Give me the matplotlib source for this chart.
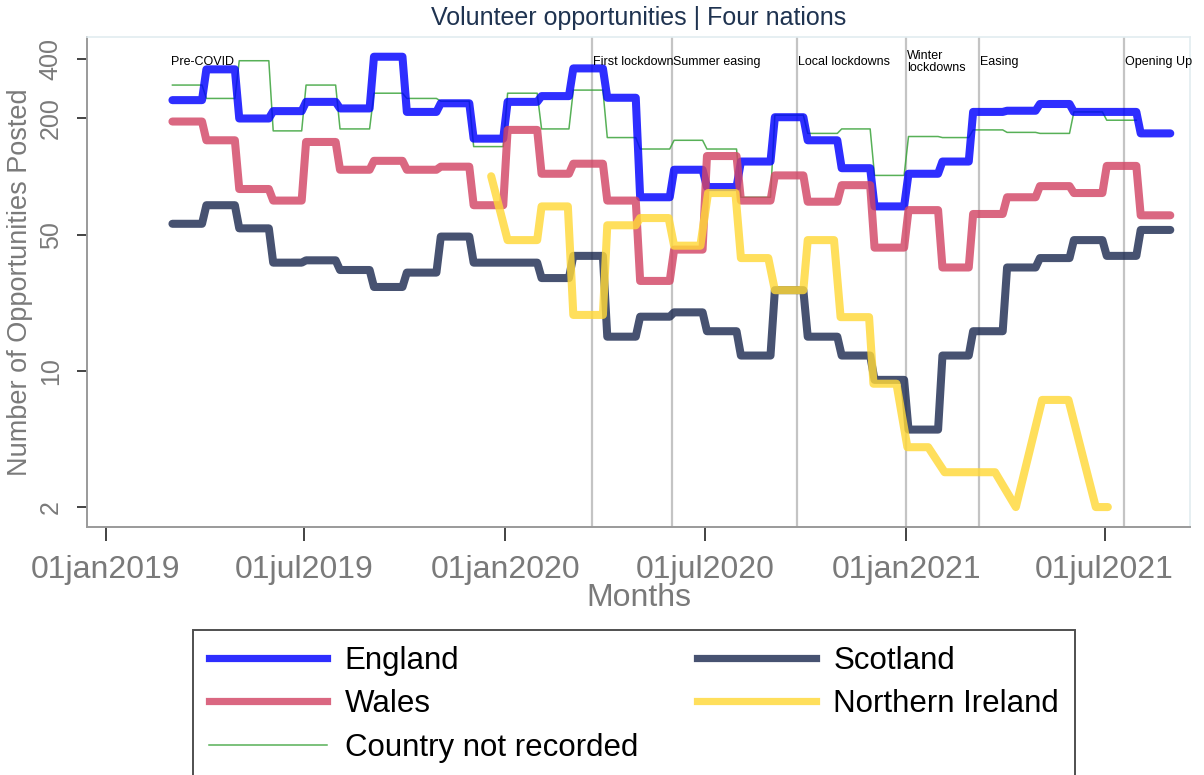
import numpy as np
import matplotlib

matplotlib.use("Agg")
import matplotlib.pyplot as plt
import matplotlib.transforms as mtransforms
from matplotlib.lines import Line2D

plt.rcParams["font.family"] = ["Liberation Sans", "DejaVu Sans"]

# monthly counts of opportunities posted, Mar 2019 onwards
FIRST_MONTH = "2019-03"
england = [246, 354, 198, 216, 241, 223, 411, 214, 237, 156,
           241, 258, 358, 253, 78, 108, 88, 119, 201, 153, 110, 70,
           103, 119, 214, 217, 235, 214, 214, 166]
wales = [191, 153, 86, 75, 150, 108, 120, 108, 112, 71,
         173, 103, 116, 75, 29, 42, 127, 75, 101, 74, 90, 43,
         67, 34, 64, 78, 89, 82, 113, 63]
scotland = [57, 71, 54, 36, 37, 33, 27, 32, 49, 36,
            36, 30, 39, 15, 19, 20, 16, 12, 26, 15, 12, 9,
            5, 12, 16, 34, 38, 47, 39, 53]
not_recorded = [294, 251, 392, 171, 294, 175, 267, 251, 243, 142,
                267, 175, 277, 158, 138, 153, 138, 78, 206, 166, 175, 101,
                160, 158, 173, 168, 166, 214, 194]

# Northern Ireland has gaps, so its observations are kept as dated points
ni_dates = ["2019-12-19", "2020-01-03", "2020-01-30", "2020-02-03", "2020-02-27",
            "2020-03-03", "2020-03-30", "2020-04-03", "2020-04-29", "2020-05-03",
            "2020-05-29", "2020-06-03", "2020-06-27", "2020-07-04", "2020-07-29",
            "2020-08-03", "2020-08-28", "2020-09-03", "2020-09-29", "2020-10-03",
            "2020-10-27", "2020-11-02", "2020-11-28", "2020-12-02", "2020-12-23",
            "2021-01-02", "2021-01-21", "2021-02-05", "2021-03-23", "2021-04-11",
            "2021-05-05", "2021-05-29", "2021-06-23", "2021-07-04"]
ni_values = [100, 47, 47, 70, 70,
             19.4, 19.4, 56, 56, 61,
             61, 44, 44, 82, 82,
             38, 38, 26, 26, 47,
             47, 18.9, 18.9, 8.6, 8.6,
             4.06, 4.06, 3.02, 3.02, 2,
             7.1, 7.1, 2, 2]

event_dates = ["2019-03-01", "2020-03-20", "2020-06-01", "2020-09-23",
               "2021-01-01", "2021-03-08", "2021-07-19"]
event_labels = ["Pre-COVID", "First lockdown", "Summer easing", "Local lockdowns",
                "Winter\nlockdowns", "Easing", "Opening Up"]
event_lines = [False, True, True, True, True, True, True]

y_ticks = [2, 10, 50, 200, 400]
x_ticks = ["2019-01-01", "2019-07-01", "2020-01-01", "2020-07-01",
           "2021-01-01", "2021-07-01"]

COLORS = {
    "England": "#0000ff",
    "Wales": "#d24565",
    "Scotland": "#1e2c52",
    "Northern Ireland": "#ffd838",
    "Country not recorded": "#3aa33a",
}


def monthly_steps(values, first_month=FIRST_MONTH):
    """Flat segment per month, short ramp across each month boundary."""
    start = np.datetime64(first_month, "M") + np.arange(len(values))
    lo = start.astype("datetime64[D]") + 2
    hi = (start + 1).astype("datetime64[D]") - 2
    x = np.column_stack([lo, hi]).ravel()
    y = np.repeat(np.asarray(values, dtype=float), 2)
    return x, y


fig = plt.figure(figsize=(12.04, 7.75), dpi=100)
ax = fig.add_axes([87 / 1204, 1 - 527 / 775, (1190 - 87) / 1204, (527 - 37) / 775])

ax.set_yscale("log")
ax.set_ylim(1.58, 519)
ax.set_xlim(np.datetime64("2018-12-15"), np.datetime64("2021-09-17"))

trans = mtransforms.blended_transform_factory(ax.transData, ax.transAxes)
for d, label, has_line in zip(event_dates, event_labels, event_lines):
    d = np.datetime64(d)
    if has_line:
        ax.axvline(d, color="#c4c4c4", lw=1.6, zorder=1)
    ax.text(d + np.timedelta64(1, "D"), 0.949, label, transform=trans,
            fontsize=9, color="black", ha="left", va="center",
            linespacing=0.95, zorder=6)

line_kw = dict(lw=5.8, alpha=0.82, solid_capstyle="round", solid_joinstyle="round")

x, y = monthly_steps(not_recorded)
ax.plot(x, y, color=COLORS["Country not recorded"], lw=1.1, alpha=0.85, zorder=2)
x, y = monthly_steps(england)
ax.plot(x, y, color=COLORS["England"], zorder=3, **line_kw)
x, y = monthly_steps(wales)
ax.plot(x, y, color=COLORS["Wales"], zorder=3, **line_kw)
x, y = monthly_steps(scotland)
ax.plot(x, y, color=COLORS["Scotland"], zorder=3, **line_kw)
ax.plot(np.array(ni_dates, dtype="datetime64[D]"), ni_values,
        color=COLORS["Northern Ireland"], zorder=3, **line_kw)

ax.set_yticks(y_ticks)
ax.set_yticklabels([str(v) for v in y_ticks])
ax.yaxis.set_minor_locator(matplotlib.ticker.NullLocator())
tick_dates = np.array(x_ticks, dtype="datetime64[D]")
ax.set_xticks(tick_dates)
ax.set_xticklabels([d.item().strftime("%d%b%Y").lower() for d in tick_dates])
ax.xaxis.set_minor_locator(matplotlib.ticker.NullLocator())

ax.tick_params(axis="x", length=10, width=1.2, color="#222222", pad=10,
               labelsize=23, labelcolor="#7a7a7a")
ax.tick_params(axis="y", length=7.5, width=1.2, color="#222222", pad=10,
               labelsize=18, labelcolor="#7a7a7a")
plt.setp(ax.get_yticklabels(), rotation=90, va="center")

for side in ("left", "bottom"):
    ax.spines[side].set_color("#9a9a9a")
    ax.spines[side].set_linewidth(1.4)
for side in ("top", "right"):
    ax.spines[side].set_color("#e2ecf0")
    ax.spines[side].set_linewidth(1.2)

ax.set_xlabel("Months", fontsize=23, color="#7a7a7a", labelpad=-1)
ax.set_ylabel("Number of Opportunities Posted", fontsize=19.5, color="#7a7a7a",
              labelpad=4)
fig.text(639 / 1204, 1 - 18 / 775, "Volunteer opportunities | Four nations",
         ha="center", va="center", fontsize=18, color="#1f3350")

order = ["England", "Wales", "Country not recorded", "Scotland", "Northern Ireland"]
handles = []
for name in order:
    if name == "Country not recorded":
        h = Line2D([], [], color=COLORS[name], lw=1.1, alpha=0.85)
    else:
        h = Line2D([], [], color=COLORS[name], lw=5.2, alpha=0.82)
    handles.append(h)
leg = fig.legend(handles, order, loc="upper left",
                 bbox_to_anchor=(193 / 1204, 1 - 630 / 775), ncol=2,
                 fontsize=22.5, frameon=True, fancybox=False, handlelength=3.8,
                 handletextpad=0.55, columnspacing=1.9, borderpad=0.5,
                 labelspacing=0.44, borderaxespad=0)
leg.get_frame().set_edgecolor("#222222")
leg.get_frame().set_linewidth(1.4)

fig.savefig("out.png", dpi=100)
